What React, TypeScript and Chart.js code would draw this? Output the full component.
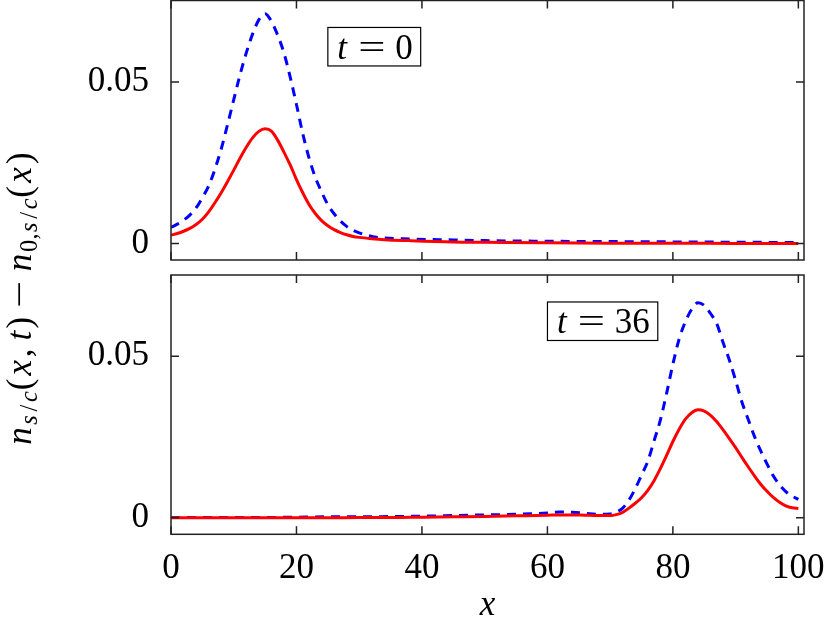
import { useEffect, useRef } from 'react';
import { Chart, registerables } from 'chart.js';

Chart.register(...registerables);

const FONT = '"Liberation Serif"';

// ---- tick values / labels ----
const xTickValues = [0, 20, 40, 60, 80, 100];
const xTickLabels = ['0', '20', '40', '60', '80', '100'];
const yTickValues = [0, 0.05];
const yTickLabels = ['0', '0.05'];

// ---- panel times (box labels) ----
const panelTimes = ['0', '36'];

// ---- top panel (t = 0) ----
const topX = [0, 1, 2, 3, 4, 5, 6, 7, 8, 9, 10, 11, 12, 13, 14, 15, 16, 17, 18, 19, 20,
  21, 22, 23, 24, 25, 26, 27, 28, 29, 30, 32, 34, 38, 45, 50, 60, 70, 80, 90, 100];
const topRed = [0.0026, 0.0031, 0.0038, 0.0047, 0.0059, 0.0075, 0.0098, 0.0126, 0.0157, 0.0191, 0.0227,
  0.0264, 0.0298, 0.0327, 0.0347, 0.0355, 0.0348, 0.0320, 0.0283, 0.0243, 0.0198,
  0.0157, 0.0121, 0.0093, 0.0071, 0.0055, 0.0043, 0.0034, 0.0027, 0.0022, 0.0019,
  0.0015, 0.0012, 0.0009, 0.0005, 0.0004, 0.0002, 0.0001, 0.0001, 0.0000, 0.0000];
const topBlue = [0.0050, 0.0060, 0.0072, 0.0088, 0.0110, 0.0142, 0.0178, 0.0230, 0.0292, 0.0367, 0.0445,
  0.0522, 0.0590, 0.0648, 0.0692, 0.0711, 0.0688, 0.0645, 0.0590, 0.0515, 0.0430,
  0.0340, 0.0265, 0.0205, 0.0160, 0.0120, 0.0092, 0.0070, 0.0053, 0.0041, 0.0033,
  0.0022, 0.0017, 0.0014, 0.0011, 0.0009, 0.0007, 0.0006, 0.0005, 0.0004, 0.0003];

// ---- bottom panel (t = 36) ----
const botX = [0, 5, 10, 15, 20, 25, 30, 35, 40, 45, 50, 55, 60, 62, 64, 66, 68,
  70, 71, 72, 73, 74, 75, 76, 77, 78, 79, 80, 81, 82, 83, 84, 85, 86, 87, 88, 89, 90,
  91, 92, 93, 94, 95, 96, 97, 98, 99, 100];
const botRed = [0.0000, 0.0000, 0.0000, 0.0000, 0.0000, 0.0000, 0.0001, 0.0001, 0.0002, 0.0003, 0.0004, 0.0006, 0.0008, 0.0009, 0.0009, 0.0008, 0.0007,
  0.0007, 0.0010, 0.0017, 0.0030, 0.0045, 0.0062, 0.0085, 0.0115, 0.0152, 0.0193, 0.0236, 0.0274, 0.0305, 0.0325, 0.0334, 0.0330, 0.0317, 0.0297, 0.0272, 0.0245, 0.0217,
  0.0187, 0.0158, 0.0130, 0.0104, 0.0082, 0.0063, 0.0048, 0.0037, 0.0031, 0.0029];
const botBlue = [0.0001, 0.0001, 0.0001, 0.0001, 0.0002, 0.0003, 0.0003, 0.0004, 0.0005, 0.0007, 0.0009, 0.0011, 0.0015, 0.0018, 0.0017, 0.0014, 0.0011,
  0.0012, 0.0018, 0.0030, 0.0055, 0.0090, 0.0132, 0.0175, 0.0238, 0.0302, 0.0385, 0.0475, 0.0553, 0.0607, 0.0645, 0.0665, 0.0657, 0.0632, 0.0600, 0.0542, 0.0488, 0.0425,
  0.0358, 0.0305, 0.0252, 0.0207, 0.0167, 0.0130, 0.0102, 0.0081, 0.0067, 0.0057];

// ---- y axis label: n_{s/c}(x, t) − n_{0,s/c}(x) ----
type Glyph = { t: string; w: number; i?: boolean; s?: boolean; stretch?: boolean };
const yLabelGlyphs: Glyph[] = [
  { t: 'n', w: 0.6, i: true },
  { t: 's', w: 0.469, i: true, s: true },
  { t: '/', w: 0.5, s: true },
  { t: 'c', w: 0.433, i: true, s: true },
  { t: '(', w: 0.389 },
  { t: 'x', w: 0.572, i: true },
  { t: ',', w: 0.278 },
  { t: ' ', w: 0.167 },
  { t: 't', w: 0.361, i: true },
  { t: ')', w: 0.389 },
  { t: ' ', w: 0.222 },
  { t: '\u2212', w: 0.778, stretch: true },
  { t: ' ', w: 0.222 },
  { t: 'n', w: 0.6, i: true },
  { t: '0', w: 0.5, s: true },
  { t: ',', w: 0.278, s: true },
  { t: 's', w: 0.469, i: true, s: true },
  { t: '/', w: 0.5, s: true },
  { t: 'c', w: 0.433, i: true, s: true },
  { t: '(', w: 0.389 },
  { t: 'x', w: 0.572, i: true },
  { t: ')', w: 0.389 },
];

const FS = 35;
const FRAME_COLOR = '#222';

function glyphsWidth(glyphs: Glyph[], size: number) {
  return glyphs.reduce((a, g) => a + g.w * (g.s ? size * 0.7 : size), 0);
}

function drawGlyphs(ctx: CanvasRenderingContext2D, glyphs: Glyph[], startX: number, baseline: number, size: number) {
  let u = startX;
  for (const g of glyphs) {
    const sz = g.s ? size * 0.7 : size;
    const slot = g.w * sz;
    if (g.t.trim()) {
      ctx.font = `${g.i ? 'italic ' : ''}${sz}px ${FONT}`;
      const aw = ctx.measureText(g.t).width;
      const dy = g.s ? size * 0.17 : 0;
      if (g.stretch) {
        ctx.save();
        ctx.translate(u, baseline + dy);
        ctx.scale(slot / aw, 1);
        ctx.fillText(g.t, 0, 0);
        ctx.restore();
      } else {
        ctx.fillText(g.t, u + (slot - aw) / 2, baseline + dy);
      }
    }
    u += slot;
  }
}

const framePlugin = {
  id: 'frame',
  afterDatasetsDraw(chart: any) {
    const { ctx, chartArea: a, scales } = chart;
    const x = scales.x, y = scales.y;
    ctx.save();
    ctx.strokeStyle = FRAME_COLOR;
    ctx.lineWidth = 1.5;
    ctx.strokeRect(a.left, a.top, a.right - a.left, a.bottom - a.top);
    ctx.beginPath();
    xTickValues.forEach((v) => {
      const px = x.getPixelForValue(v);
      ctx.moveTo(px, a.bottom); ctx.lineTo(px, a.bottom - 8);
      ctx.moveTo(px, a.top); ctx.lineTo(px, a.top + 8);
    });
    yTickValues.forEach((v) => {
      const py = y.getPixelForValue(v);
      ctx.moveTo(a.left, py); ctx.lineTo(a.left + 8, py);
      ctx.moveTo(a.right, py); ctx.lineTo(a.right - 8, py);
    });
    ctx.stroke();
    ctx.restore();
  },
};

const boxPlugin = {
  id: 'tbox',
  afterDatasetsDraw(chart: any, _args: any, opts: any) {
    if (!opts || opts.time === undefined) return;
    const { ctx, scales } = chart;
    const cx = scales.x.getPixelForValue(opts.x);
    const cy = scales.y.getPixelForValue(opts.y);
    const glyphs: Glyph[] = [
      { t: 't', w: 0.361, i: true },
      { t: ' ', w: 0.278 },
      { t: '=', w: 0.778, stretch: true },
      { t: ' ', w: 0.278 },
      ...String(opts.time).split('').map((d) => ({ t: d, w: 0.5 })),
    ];
    const total = glyphsWidth(glyphs, FS);
    const bw = total + 16;
    const bh = 38.5;
    ctx.save();
    ctx.fillStyle = '#fff';
    ctx.fillRect(cx - bw / 2, cy - bh / 2, bw, bh);
    ctx.strokeStyle = '#000';
    ctx.lineWidth = 1.2;
    ctx.strokeRect(cx - bw / 2, cy - bh / 2, bw, bh);
    ctx.fillStyle = '#000';
    ctx.textAlign = 'left';
    ctx.textBaseline = 'alphabetic';
    drawGlyphs(ctx, glyphs, cx - total / 2, cy + 11.8, FS);
    ctx.restore();
  },
};

const yLabelPlugin = {
  id: 'ylabel',
  afterDraw(chart: any, _args: any, opts: any) {
    if (!opts || !opts.show) return;
    const ctx = chart.ctx;
    const total = glyphsWidth(yLabelGlyphs, FS);
    ctx.save();
    ctx.translate(opts.cx, opts.cy);
    ctx.rotate(-Math.PI / 2);
    ctx.fillStyle = '#000';
    ctx.textAlign = 'left';
    ctx.textBaseline = 'alphabetic';
    drawGlyphs(ctx, yLabelGlyphs, -total / 2, 0, FS);
    ctx.restore();
  },
};

const toPts = (xs: number[], ys: number[]) => xs.map((x, i) => ({ x, y: ys[i] }));

function makeConfig(panel: 'top' | 'bottom'): any {
  const isTop = panel === 'top';
  const xs = isTop ? topX : botX;
  const red = isTop ? topRed : botRed;
  const blue = isTop ? topBlue : botBlue;
  return {
    type: 'line',
    data: {
      datasets: [
        {
          data: toPts(xs, red),
          borderColor: '#ff0000',
          borderWidth: 3,
          pointRadius: 0,
          cubicInterpolationMode: 'monotone',
          fill: false,
        },
        {
          data: toPts(xs, blue),
          borderColor: '#0000ff',
          borderWidth: 3,
          borderDash: [9, 7],
          pointRadius: 0,
          cubicInterpolationMode: 'monotone',
          fill: false,
        },
      ],
    },
    options: {
      animation: false,
      responsive: false,
      events: [],
      font: { family: FONT },
      layout: {
        padding: isTop
          ? { left: 0, right: 25, top: 0.5, bottom: 370 }
          : { left: 0, right: 25, top: 275, bottom: 0 },
      },
      plugins: {
        legend: { display: false },
        tooltip: { enabled: false },
        tbox: isTop
          ? { x: 32.4, y: 0.0609, time: panelTimes[0] }
          : { x: 68.8, y: 0.0608, time: panelTimes[1] },
        ylabel: { show: !isTop, cx: 31, cy: 299 },
      },
      scales: {
        x: {
          type: 'linear',
          min: 0,
          max: 100.9,
          display: !isTop,
          position: 'bottom',
          grid: { display: false, drawTicks: false },
          border: { display: false },
          afterBuildTicks: (s: any) => { s.ticks = xTickValues.map((v) => ({ value: v })); },
          afterFit: (s: any) => { s.height = isTop ? 0 : 630 - 534.3; s.paddingLeft = 0; s.paddingRight = 0; },
          ticks: {
            autoSkip: false,
            maxRotation: 0,
            padding: 14,
            color: '#000',
            font: { family: FONT, size: FS },
            callback: (v: number) => { const i = xTickValues.indexOf(v); return i >= 0 ? xTickLabels[i] : ''; },
          },
          title: {
            display: true,
            text: 'x',
            color: '#000',
            font: { family: FONT, size: FS, style: 'italic' },
            padding: { top: 0, bottom: 3 },
          },
        },
        y: {
          type: 'linear',
          min: -0.0051,
          max: isTop ? 0.0752 : 0.0751,
          position: 'left',
          grid: { display: false, drawTicks: false },
          border: { display: false },
          afterBuildTicks: (s: any) => { s.ticks = yTickValues.map((v) => ({ value: v })); },
          afterFit: (s: any) => { s.width = 171; s.paddingTop = 0; s.paddingBottom = 0; },
          ticks: {
            autoSkip: false,
            padding: 22,
            color: '#000',
            font: { family: FONT, size: FS },
            callback: (v: number) => { const i = yTickValues.indexOf(v); return i >= 0 ? yTickLabels[i] : ''; },
          },
        },
      },
    },
    plugins: [framePlugin, boxPlugin, yLabelPlugin],
  };
}

export default function App() {
  const topRef = useRef<HTMLCanvasElement>(null);
  const botRef = useRef<HTMLCanvasElement>(null);

  useEffect(() => {
    Chart.defaults.font.family = FONT;
    const charts: Chart[] = [];
    if (botRef.current) charts.push(new Chart(botRef.current, makeConfig('bottom')));
    if (topRef.current) charts.push(new Chart(topRef.current, makeConfig('top')));
    return () => charts.forEach((c) => c.destroy());
  }, []);

  const cs: any = { position: 'absolute', left: 0, top: 0, width: 829, height: 630 };
  return (
    <div style={{ position: 'absolute', left: 0, top: 0, width: 829, height: 630, background: '#fff' }}>
      <canvas ref={botRef} width={829} height={630} style={cs} />
      <canvas ref={topRef} width={829} height={630} style={cs} />
    </div>
  );
}
